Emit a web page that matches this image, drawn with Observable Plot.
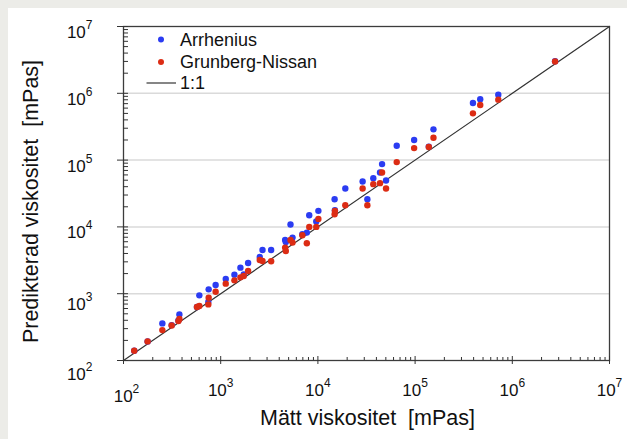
<!DOCTYPE html>
<html><head><meta charset="utf-8">
<script src="https://cdn.jsdelivr.net/npm/d3@7"></script>
<script src="https://cdn.jsdelivr.net/npm/@observablehq/plot@0.6"></script>
<style>
html,body{margin:0;padding:0;background:#ecece8;width:627px;height:439px;overflow:hidden;}
#card{position:absolute;left:8px;top:8px;width:619px;height:431px;background:#fff;}
#card svg text{white-space:pre;}
#legend{position:absolute;left:0;top:0;font-family:"Liberation Sans",Arial,sans-serif;}
</style></head><body>
<div id="card"></div>
<svg id="legend" width="627" height="100">
  <circle cx="161" cy="39.5" r="3" fill="#2b3cf2"></circle>
  <text x="180" y="46" font-size="18" fill="#111">Arrhenius</text>
  <circle cx="161" cy="62" r="3" fill="#dc2c14"></circle>
  <text x="180" y="68" font-size="18" fill="#111">Grunberg-Nissan</text>
  <line x1="146.5" x2="176" y1="83" y2="83" stroke="#444" stroke-width="1.3"></line>
  <text x="180" y="89" font-size="18" fill="#111">1:1</text>
</svg>
<script>
// Measured viscosity [mPas]
const measured = [129, 177, 251, 313, 367, 376, 570, 603, 746, 752, 887, 1127, 1384, 1596, 1726, 1914, 2523, 2692, 3304, 4603, 4677, 5224, 5483, 6918, 7691, 8147, 9616, 10116, 14859, 14962, 19143, 28840, 32285, 37154, 43551, 45709, 50234, 64714, 97724, 138357, 154525, 393550, 467735, 717794, 2754229];
// Predicted, Arrhenius
const arrhenius = [140, 193, 359, 339, 398, 490, 631, 944, 750, 1161, 1349, 1660, 1928, 2455, 1950, 2884, 3548, 4519, 4519, 6383, 5957, 10839, 6918, 7762, 8222, 14962, 12023, 17378, 26002, 17783, 37584, 47863, 26002, 53703, 65313, 87096, 49545, 164059, 199526, 158489, 288403, 716143, 812831, 954993, 3019952];
// Predicted, Grunberg-Nissan
const grunbergNissan = [140, 193, 285, 335, 389, 417, 631, 653, 692, 871, 1072, 1413, 1585, 1758, 1841, 2188, 3199, 3090, 3055, 4898, 4365, 6383, 5821, 7499, 5689, 10000, 10000, 13183, 15488, 17378, 21135, 37584, 21135, 43652, 45186, 65313, 37584, 93325, 151356, 156675, 216272, 501187, 668344, 803526, 2985383];

const majorTicks = [1e2, 1e3, 1e4, 1e5, 1e6, 1e7];
const gridValues = [1e3, 1e4, 1e5, 1e6];
const identityLine = [1e2, 1e7];
const xTitle = "Mätt viskositet  [mPas]";
const yTitle = "Predikterad viskositet  [mPas]";

const minorTicks = [];
for (let k = 0; k < majorTicks.length - 1; k++) for (let m = 2; m <= 9; m++) minorTicks.push(m * majorTicks[k]);

const dataA = measured.map((m, i) => ({m, p: arrhenius[i]}));
const dataG = measured.map((m, i) => ({m, p: grunbergNissan[i]}));
const fmt = d => "10^" + Math.round(Math.log10(d));

const plot = Plot.plot({
  width: 619, height: 431,
  marginLeft: 115, marginRight: 18, marginTop: 18, marginBottom: 79,
  style: {fontFamily: "'Liberation Sans', Arial, sans-serif", fontSize: "17px", color: "#111", background: "transparent", overflow: "visible"},
  x: {type: "log", domain: [1e2, 1e7], label: null},
  y: {type: "log", domain: [1e2, 1e7], label: null},
  marks: [
    Plot.gridY(gridValues, {stroke: "#dadada", strokeOpacity: 1, strokeWidth: 1.5}),
    Plot.line(identityLine, {x: d => d, y: d => d, stroke: "#333", strokeWidth: 1.2}),
    Plot.dot(dataA, {x: "m", y: "p", r: 3.2, fill: "#2b3cf2"}),
    Plot.dot(dataG, {x: "m", y: "p", r: 3.2, fill: "#dc2c14"}),
    Plot.frame({stroke: "#3c3c3c", strokeWidth: 1.3}),
    Plot.axisX(minorTicks, {tickSize: -3, fill: "none", stroke: "#333", label: null}),
    Plot.axisX(majorTicks, {tickSize: -4, fill: "none", stroke: "#333", label: null}),
    Plot.axisX(majorTicks, {tickSize: 4, tickPadding: 19, tickFormat: fmt, stroke: "#333", fill: "#111", label: null}),
    Plot.axisY(minorTicks, {tickSize: -5, fill: "none", stroke: "#333", label: null}),
    Plot.axisY(majorTicks, {tickSize: -5, fill: "none", stroke: "#333", label: null}),
    Plot.axisY(majorTicks, {tickSize: 6, fill: "none", stroke: "#333", label: null}),
    Plot.axisY(majorTicks, {tickSize: 0, tickPadding: 31, tickFormat: fmt, dy: 6, fill: "#111", label: null}),
    Plot.text([xTitle], {text: d => d, frameAnchor: "bottom", textAnchor: "middle", dx: 1, dy: 64, lineAnchor: "bottom", fontSize: 21.5, fill: "#111"}),
    Plot.text([yTitle], {text: d => d, frameAnchor: "left", textAnchor: "middle", rotate: -90, dx: -86, dy: 8, lineAnchor: "bottom", fontSize: 21.5, fill: "#111"})
  ]
});

function superscript(sel, axis) {
  plot.querySelectorAll(sel).forEach(t => {
    const s = t.textContent;
    if (!s.includes("^")) return;
    const [b, e] = s.split("^");
    t.textContent = b;
    const ts = document.createElementNS("http://www.w3.org/2000/svg", "tspan");
    ts.setAttribute("dy", "-9");
    ts.setAttribute("font-size", "12");
    ts.textContent = e;
    t.appendChild(ts);
    const tr = t.getAttribute("transform") || "";
    if (axis === "x" && e === "2") t.setAttribute("transform", tr + " translate(3,6)");
    if (axis === "y" && e === "2") t.setAttribute("transform", tr + " translate(0,8)");
    if (axis === "y" && e === "3") t.setAttribute("transform", tr + " translate(0,5)");
  });
}
superscript('g[aria-label="x-axis tick label"] text', "x");
superscript('g[aria-label="y-axis tick label"] text', "y");

document.getElementById("card").appendChild(plot);
</script>
</body></html>
